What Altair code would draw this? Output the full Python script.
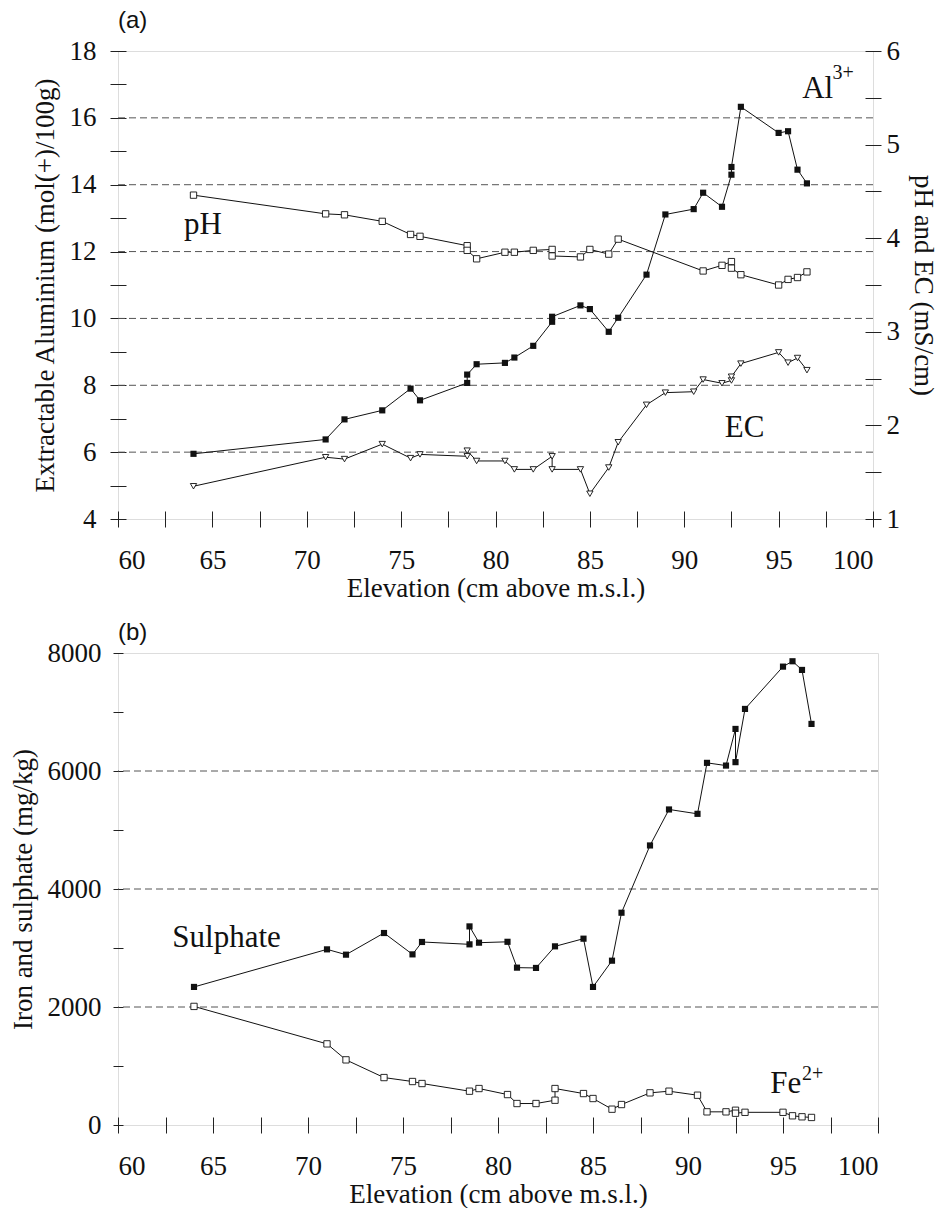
import altair as alt
import pandas as pd

# ---------------- data: panel (a) ----------------
al_elev = [64, 71, 72, 74, 75.5, 76, 78.5, 78.5, 79, 80.5, 81, 82, 83, 83, 84.5, 85, 86, 86.5,
           88, 89, 90.5, 91, 92, 92.5, 92.5, 93, 95, 95.5, 96, 96.5]
al_val = [5.95, 6.38, 6.98, 7.25, 7.9, 7.55, 8.07, 8.32, 8.63, 8.67, 8.83, 9.18, 9.9, 10.05, 10.39,
          10.28, 9.6, 10.02, 11.31, 13.11, 13.27, 13.76, 13.34, 14.3, 14.53, 16.33, 15.55, 15.6,
          14.45, 14.04]

ph_elev = [64, 71, 72, 74, 75.5, 76, 78.5, 78.5, 79, 80.5, 81, 82, 83, 83, 84.5, 85, 86, 86.5,
           91, 92, 92.5, 92.5, 93, 95, 95.5, 96, 96.5]
ph_val = [4.46, 4.26, 4.25, 4.18, 4.04, 4.02, 3.92, 3.87, 3.78, 3.85, 3.85, 3.87, 3.88, 3.81, 3.80,
          3.88, 3.83, 3.99, 3.65, 3.71, 3.75, 3.68, 3.61, 3.50, 3.56, 3.58, 3.64]

ec_elev = [64, 71, 72, 74, 75.5, 76, 78.5, 78.5, 79, 80.5, 81, 82, 83, 83, 84.5, 85, 86, 86.5,
           88, 89, 90.5, 91, 92, 92.5, 92.5, 93, 95, 95.5, 96, 96.5]
ec_val = [1.35, 1.66, 1.64, 1.80, 1.65, 1.69, 1.67, 1.73, 1.62, 1.62, 1.53, 1.53, 1.67, 1.53, 1.53,
          1.27, 1.55, 1.82, 2.22, 2.35, 2.36, 2.49, 2.45, 2.48, 2.52, 2.66, 2.78, 2.67, 2.72, 2.59]

# ---------------- data: panel (b) ----------------
so4_elev = [64, 71, 72, 74, 75.5, 76, 78.5, 78.5, 79, 80.5, 81, 82, 83, 84.5, 85, 86, 86.5,
            88, 89, 90.5, 91, 92, 92.5, 92.5, 93, 95, 95.5, 96, 96.5]
so4_val = [2340, 2977, 2887, 3254, 2892, 3102, 3062, 3366, 3090, 3105, 2667, 2662, 3028, 3158,
           2340, 2785, 3598, 4738, 5348, 5274, 6138, 6092, 6713, 6150, 7052, 7769, 7860, 7713, 6798]

fe_elev = [64, 71, 72, 74, 75.5, 76, 78.5, 79, 80.5, 81, 82, 83, 83, 84.5, 85, 86, 86.5,
           88, 89, 90.5, 91, 92, 92.5, 92.5, 93, 95, 95.5, 96, 96.5]
fe_val = [2010, 1375, 1104, 804, 737, 703, 573, 618, 516, 364, 364, 420, 618, 533, 449, 268, 347,
          545, 573, 505, 223, 223, 250, 200, 215, 215, 156, 139, 128]

# ---------------- ticks, gridlines, labels ----------------
x_ticks = [60, 62.5, 65, 67.5, 70, 72.5, 75, 77.5, 80, 82.5, 85, 87.5, 90, 92.5, 95, 97.5, 100]
a_left_ticks = [4, 5, 6, 7, 8, 9, 10, 11, 12, 13, 14, 15, 16, 17, 18]
a_right_ticks = [1, 1.5, 2, 2.5, 3, 3.5, 4, 4.5, 5, 5.5, 6]
b_left_ticks = [0, 1000, 2000, 3000, 4000, 5000, 6000, 7000, 8000]
a_grid = [6, 8, 10, 12, 14, 16]
b_grid = [2000, 4000, 6000]

a_lab_text = ["pH", "EC", "Al"]
a_lab_x = [63.5, 92.15, 96.25]
a_lab_y = [12.52, 6.45, 16.59]
a_sup_text = ["3+"]
a_sup_x = [97.85]
a_sup_y = [17.15]

b_lab_text = ["Sulphate", "Fe"]
b_lab_x = [62.86, 94.33]
b_lab_y = [3022, 545]
b_sup_text = ["2+"]
b_sup_x = [96.0]
b_sup_y = [760]

SERIF = "Liberation Serif"
SANS = "Liberation Sans"
INK = "#111111"
LAB = 27
TIT = 27

AX = dict(labelFont=SERIF, titleFont=SERIF, labelFontSize=LAB, titleFontSize=TIT,
          titleFontWeight="normal", labelColor=INK, titleColor=INK, tickColor="#222222",
          tickWidth=1, domain=False, grid=False)


def frame(elev, val):
    return pd.DataFrame({"elev": elev, "val": val, "ord": list(range(len(elev)))})


def x_enc():
    return alt.X(
        "elev:Q",
        scale=alt.Scale(domain=[60, 100], nice=False, zero=False),
        axis=alt.Axis(
            values=x_ticks,
            labelExpr="datum.value % 5 == 0 ? format(datum.value, 'd') : ''",
            title="Elevation (cm above m.s.l.)",
            tickSize=16, offset=-8, labelPadding=20, titlePadding=2, **AX,
        ),
    )


def series_layers(df, y, shape, filled):
    line = alt.Chart(df).mark_line(color=INK, strokeWidth=1).encode(
        x=x_enc(), y=y, order=alt.Order("ord:Q")
    )
    if filled:
        pts = alt.Chart(df).mark_point(shape=shape, filled=True, size=38, color=INK, opacity=1)
    else:
        pts = alt.Chart(df).mark_point(shape=shape, filled=False, fill="white", fillOpacity=1,
                                       stroke=INK, strokeWidth=0.9, size=40, opacity=1)
    pts = pts.encode(x=x_enc(), y=y)
    return [line, pts]


# ---------------- panel (a) ----------------
y_left_a = alt.Y(
    "val:Q",
    scale=alt.Scale(domain=[4, 18], nice=False, zero=False),
    axis=alt.Axis(
        values=a_left_ticks,
        labelExpr="datum.value % 2 == 0 ? format(datum.value, 'd') : ''",
        title="Extractable Aluminium (mol(+)/100g)",
        tickSize=16, offset=-8, labelPadding=14, titlePadding=10, **AX,
    ),
)
y_right_a = alt.Y(
    "val:Q",
    scale=alt.Scale(domain=[1, 6], nice=False, zero=False),
    axis=alt.Axis(
        orient="right",
        values=a_right_ticks,
        labelExpr="datum.value % 1 == 0 ? format(datum.value, 'd') : ''",
        title="pH and EC (mS/cm)",
        tickSize=16, offset=-8, labelPadding=5, titlePadding=9, **AX,
    ),
)

grid_a = alt.Chart(pd.DataFrame({"val": a_grid})).mark_rule(
    color="#555555", strokeWidth=1, strokeDash=[7, 4]
).encode(y=y_left_a)

lab_a = alt.Chart(pd.DataFrame({"elev": a_lab_x, "val": a_lab_y, "t": a_lab_text})).mark_text(
    font=SERIF, fontSize=31, align="left", baseline="alphabetic", color=INK
).encode(x=x_enc(), y=y_left_a, text="t:N")
sup_a = alt.Chart(pd.DataFrame({"elev": a_sup_x, "val": a_sup_y, "t": a_sup_text})).mark_text(
    font=SERIF, fontSize=20, align="left", baseline="alphabetic", color=INK
).encode(x=x_enc(), y=y_left_a, text="t:N")

left_a = alt.layer(
    grid_a,
    *series_layers(frame(al_elev, al_val), y_left_a, "square", True),
    lab_a, sup_a,
)
right_a = alt.layer(
    *series_layers(frame(ph_elev, ph_val), y_right_a, "square", False),
    *series_layers(frame(ec_elev, ec_val), y_right_a, "triangle-down", False),
)

panel_a = alt.layer(left_a, right_a).resolve_scale(y="independent").properties(
    width=755, height=468,
    title=alt.TitleParams("(a)", anchor="start", frame="group", font=SANS,
                          fontSize=24, fontWeight="normal", color=INK, offset=4),
)

# ---------------- panel (b) ----------------
y_b = alt.Y(
    "val:Q",
    scale=alt.Scale(domain=[0, 8000], nice=False, zero=False),
    axis=alt.Axis(
        values=b_left_ticks,
        labelExpr="datum.value % 2000 == 0 ? format(datum.value, 'd') : ''",
        title="Iron and sulphate (mg/kg)",
        tickSize=10, offset=-5, labelPadding=12, titlePadding=10, **AX,
    ),
)

grid_b = alt.Chart(pd.DataFrame({"val": b_grid})).mark_rule(
    color="#555555", strokeWidth=1, strokeDash=[7, 4]
).encode(y=y_b)

lab_b = alt.Chart(pd.DataFrame({"elev": b_lab_x, "val": b_lab_y, "t": b_lab_text})).mark_text(
    font=SERIF, fontSize=31, align="left", baseline="alphabetic", color=INK
).encode(x=x_enc(), y=y_b, text="t:N")
sup_b = alt.Chart(pd.DataFrame({"elev": b_sup_x, "val": b_sup_y, "t": b_sup_text})).mark_text(
    font=SERIF, fontSize=20, align="left", baseline="alphabetic", color=INK
).encode(x=x_enc(), y=y_b, text="t:N")

panel_b = alt.layer(
    grid_b,
    *series_layers(frame(so4_elev, so4_val), y_b, "square", True),
    *series_layers(frame(fe_elev, fe_val), y_b, "square", False),
    lab_b, sup_b,
).properties(
    width=760, height=472,
    title=alt.TitleParams("(b)", anchor="start", frame="group", font=SANS,
                          fontSize=24, fontWeight="normal", color=INK, offset=-6),
)

chart = alt.vconcat(panel_a, panel_b, spacing=18).properties(
    padding={"left": 8, "top": 8, "right": 6, "bottom": 0}
).configure_view(
    stroke="#444444", strokeWidth=1
).configure(font=SERIF)

chart.save("out.html", embed_options={"renderer": "svg", "actions": False})
